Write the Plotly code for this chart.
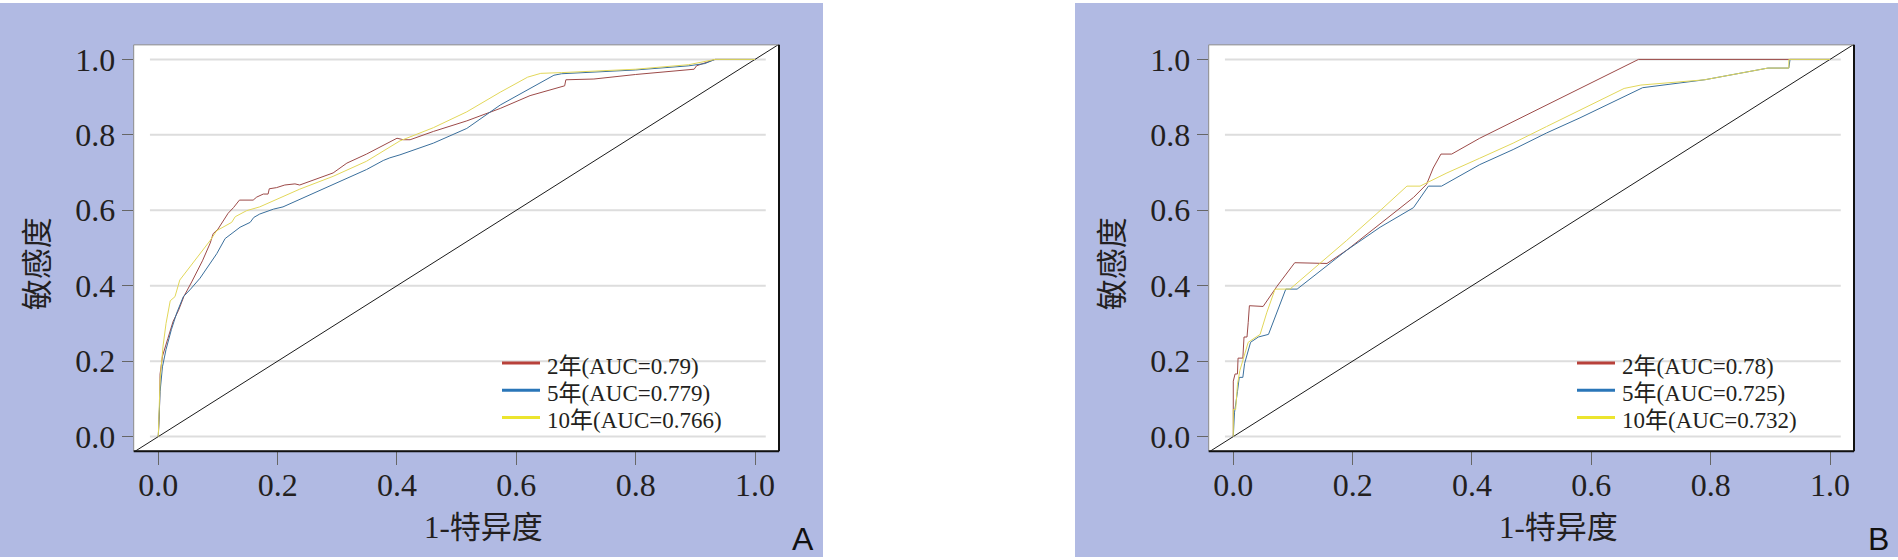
import plotly.graph_objects as go

# ---------------- data ----------------
TICKS = [0.0, 0.2, 0.4, 0.6, 0.8, 1.0]
TICK_TEXT = ["0.0", "0.2", "0.4", "0.6", "0.8", "1.0"]
X_TITLE = "1-特异度"
Y_TITLE = "敏感度"
SERIES_NAMES = ["2年", "5年", "10年"]
AUC_A = ["0.79", "0.779", "0.766"]
AUC_B = ["0.78", "0.725", "0.732"]
PANEL_LABELS = ["A", "B"]
DIAG = [-0.05, 1.05]

# Panel A
A_2_x = [0, 0.002, 0.003, 0.007, 0.016, 0.025, 0.034, 0.043, 0.056, 0.074, 0.087, 0.092, 0.1, 0.112,
         0.117, 0.126, 0.136, 0.159, 0.165, 0.176, 0.184, 0.186, 0.198, 0.212, 0.229, 0.237, 0.293,
         0.316, 0.349, 0.4, 0.411, 0.422, 0.461, 0.517, 0.573, 0.623, 0.681, 0.683, 0.73, 0.8, 0.898,
         0.902, 0.933, 1.0]
A_2_y = [0, 0.072, 0.166, 0.213, 0.26, 0.306, 0.335, 0.372, 0.41, 0.466, 0.513, 0.538, 0.55, 0.581,
         0.592, 0.607, 0.627, 0.627, 0.635, 0.643, 0.643, 0.657, 0.66, 0.667, 0.67, 0.667, 0.699,
         0.725, 0.749, 0.791, 0.787, 0.787, 0.809, 0.837, 0.87, 0.904, 0.93, 0.946, 0.948, 0.96, 0.974,
         0.983, 1.0, 1.0]
A_5_x = [0, 0.003, 0.007, 0.013, 0.022, 0.031, 0.042, 0.053, 0.07, 0.087, 0.098, 0.112, 0.126, 0.137,
         0.154, 0.16, 0.17, 0.193, 0.209, 0.237, 0.293, 0.349, 0.377, 0.388, 0.405, 0.461, 0.517,
         0.573, 0.663, 0.676, 0.8, 0.889, 0.916, 0.933, 1.0]
A_5_y = [0, 0.119, 0.185, 0.231, 0.284, 0.328, 0.371, 0.389, 0.42, 0.459, 0.485, 0.525, 0.542, 0.555,
         0.568, 0.581, 0.59, 0.603, 0.609, 0.629, 0.669, 0.708, 0.732, 0.739, 0.747, 0.778, 0.817,
         0.879, 0.958, 0.962, 0.972, 0.983, 0.989, 1.0, 1.0]
A_10_x = [0, 0.003, 0.008, 0.013, 0.02, 0.028, 0.036, 0.053, 0.07, 0.087, 0.098, 0.109, 0.123, 0.129,
          0.148, 0.17, 0.193, 0.237, 0.293, 0.349, 0.405, 0.461, 0.517, 0.573, 0.619, 0.641, 0.676,
          0.8, 0.889, 0.933, 1.0]
A_10_y = [0, 0.15, 0.24, 0.3, 0.36, 0.371, 0.415, 0.45, 0.485, 0.52, 0.546, 0.555, 0.568, 0.583,
          0.599, 0.609, 0.625, 0.656, 0.69, 0.73, 0.784, 0.819, 0.861, 0.913, 0.953, 0.963, 0.965,
          0.974, 0.986, 1.0, 1.0]

# Panel B
B_2_x = [0, 0, 0.003, 0.007, 0.008, 0.016, 0.018, 0.023, 0.025, 0.027, 0.05, 0.073, 0.103, 0.14,
         0.157, 0.19, 0.246, 0.302, 0.324, 0.335, 0.348, 0.366, 0.413, 0.469, 0.525, 0.581, 0.679, 1.0]
B_2_y = [0, 0.147, 0.166, 0.166, 0.208, 0.208, 0.264, 0.264, 0.302, 0.347, 0.345, 0.398, 0.461, 0.461,
         0.459, 0.494, 0.564, 0.634, 0.669, 0.712, 0.749, 0.749, 0.791, 0.835, 0.879, 0.922, 1.0, 1.0]
B_5_x = [0, 0.002, 0.007, 0.01, 0.016, 0.019, 0.029, 0.042, 0.059, 0.073, 0.088, 0.107, 0.134, 0.19,
         0.246, 0.302, 0.327, 0.349, 0.413, 0.469, 0.525, 0.581, 0.686, 0.79, 0.896, 0.931, 0.933, 1.0]
B_5_y = [0, 0.063, 0.119, 0.157, 0.157, 0.194, 0.25, 0.264, 0.271, 0.328, 0.391, 0.391, 0.424, 0.494,
         0.555, 0.607, 0.664, 0.664, 0.721, 0.761, 0.805, 0.845, 0.925, 0.946, 0.977, 0.977, 1.0, 1.0]
B_10_x = [0, 0, 0.004, 0.007, 0.011, 0.016, 0.025, 0.045, 0.056, 0.07, 0.095, 0.145, 0.19, 0.246,
          0.291, 0.313, 0.324, 0.358, 0.413, 0.469, 0.525, 0.581, 0.655, 0.683, 0.79, 0.896, 0.931,
          0.931, 1.0]
B_10_y = [0, 0.072, 0.072, 0.138, 0.175, 0.203, 0.25, 0.271, 0.328, 0.391, 0.391, 0.459, 0.52, 0.599,
          0.664, 0.664, 0.673, 0.699, 0.738, 0.778, 0.822, 0.865, 0.923, 0.932, 0.946, 0.977, 0.977,
          1.0, 1.0]

# ---------------- styling ----------------
W, H = 1898, 560
BLUE_BG = "#b1bae3"
LEGEND_COLORS = ["#b8413a", "#2a76b8", "#ece52e"]
LINE_COLORS = ["#9c4a48", "#3a6f9c", "#e2d75a"]
SERIF = "Liberation Serif, Noto Sans CJK SC"
TXT = "#231f20"

# pixel geometry
PANEL_W = 823
OFFSET = 1075
PLOT_L, PLOT_R = 133.7, 779.0
PLOT_T, PLOT_B = 42.3, 453.0
XR = [-0.0412, 1.0402]
YR = [-0.0386, 1.0386]
LEG_LINE_X = (502, 540)
LEG_TEXT_X = 545
LEG_ROW_Y = [364, 391.5, 419]


def px(x):
    return x / W


def py(y):
    return 1 - y / H


fig = go.Figure()

panels = [
    ("x", "y", [(A_2_x, A_2_y), (A_5_x, A_5_y), (A_10_x, A_10_y)], AUC_A),
    ("x2", "y2", [(B_2_x, B_2_y), (B_5_x, B_5_y), (B_10_x, B_10_y)], AUC_B),
]

shapes = []
annotations = []
for pi, (xa, ya, series, aucs) in enumerate(panels):
    off = OFFSET * pi
    # blue panel background
    shapes.append(dict(type="rect", xref="paper", yref="paper", x0=px(off), x1=px(off + PANEL_W),
                       y0=0, y1=1, fillcolor=BLUE_BG, line=dict(width=0), layer="below"))
    # white plotting area
    shapes.append(dict(type="rect", xref=f"{xa} domain", yref=f"{ya} domain", x0=0, x1=1, y0=0, y1=1,
                       fillcolor="white", line=dict(width=0), layer="below"))
    # gridlines
    for t in TICKS:
        shapes.append(dict(type="line", xref=xa, yref=ya, x0=-0.014, x1=1.018, y0=t, y1=t,
                           line=dict(color="#dddddd", width=2), layer="below"))
    # frame
    shapes.append(dict(type="rect", xref=f"{xa} domain", yref=f"{ya} domain", x0=0, x1=1, y0=0, y1=1,
                       line=dict(color="#8a8a8a", width=1), layer="above"))
    shapes.append(dict(type="line", xref=f"{xa} domain", yref=f"{ya} domain", x0=1, x1=1, y0=0, y1=1,
                       line=dict(color="#111111", width=2), layer="above"))
    shapes.append(dict(type="line", xref=f"{xa} domain", yref=f"{ya} domain", x0=0, x1=1, y0=0, y1=0,
                       line=dict(color="#111111", width=2), layer="above"))

    # diagonal reference
    fig.add_trace(go.Scatter(x=DIAG, y=DIAG, mode="lines", xaxis=xa, yaxis=ya,
                             line=dict(color="#000000", width=0.9), showlegend=False, hoverinfo="skip"))
    # ROC curves
    for (sx, sy), c, nm in zip(series, LINE_COLORS, SERIES_NAMES):
        fig.add_trace(go.Scatter(x=sx, y=sy, mode="lines", xaxis=xa, yaxis=ya,
                                 line=dict(color=c, width=1), showlegend=False, name=nm))

    # legend (line samples + labels)
    for c, nm, auc, ry in zip(LEGEND_COLORS, SERIES_NAMES, aucs, LEG_ROW_Y):
        shapes.append(dict(type="line", xref="paper", yref="paper",
                           x0=px(LEG_LINE_X[0] + off), x1=px(LEG_LINE_X[1] + off), y0=py(ry), y1=py(ry),
                           line=dict(color=c, width=3), layer="above"))
        annotations.append(dict(text=f"{nm}(AUC={auc})", xref="paper", yref="paper",
                                x=px(LEG_TEXT_X + off), y=py(ry + 3), xanchor="left", yanchor="middle",
                                showarrow=False, font=dict(family=SERIF, size=23, color=TXT)))

    # axis titles
    annotations.append(dict(text=X_TITLE, xref="paper", yref="paper", x=px(483 + off), y=py(530),
                            xanchor="center", yanchor="middle", showarrow=False,
                            font=dict(family=SERIF, size=31, color=TXT)))
    annotations.append(dict(text=Y_TITLE, xref="paper", yref="paper", x=px(37 + off), y=py(264),
                            xanchor="center", yanchor="middle", showarrow=False, textangle=-90,
                            font=dict(family=SERIF, size=31, color=TXT)))
    # panel label
    annotations.append(dict(text=PANEL_LABELS[pi], xref="paper", yref="paper", x=px(803 + off),
                            y=py(542), xanchor="center", yanchor="middle", showarrow=False,
                            font=dict(family="Liberation Sans", size=32, color="#111111")))

axis_common = dict(tickmode="array", tickvals=TICKS, ticktext=TICK_TEXT, ticks="outside",
                   tickcolor="#666666", tickwidth=1, showgrid=False, zeroline=False, showline=False,
                   tickfont=dict(family=SERIF, size=32, color=TXT), fixedrange=True)

ydom = [py(PLOT_B), py(PLOT_T)]
layout = dict(
    width=W, height=H, margin=dict(l=0, r=0, t=0, b=0),
    paper_bgcolor="white", plot_bgcolor="white", showlegend=False,
    xaxis=dict(domain=[px(PLOT_L), px(PLOT_R)], range=XR, anchor="y", ticklen=13,
               ticklabelstandoff=-8, **axis_common),
    yaxis=dict(domain=ydom, range=YR, anchor="x", ticklen=11, ticklabelstandoff=0, **axis_common),
    xaxis2=dict(domain=[px(PLOT_L + OFFSET), px(PLOT_R + OFFSET)], range=XR, anchor="y2",
                ticklen=13, ticklabelstandoff=-8, **axis_common),
    yaxis2=dict(domain=ydom, range=YR, anchor="x2", ticklen=11, ticklabelstandoff=0, **axis_common),
    shapes=shapes, annotations=annotations,
)
fig.update_layout(**layout)
fig.write_html("out.html", config={"displayModeBar": False},
               post_script="document.body.style.margin='0';document.body.style.overflow='hidden';")
